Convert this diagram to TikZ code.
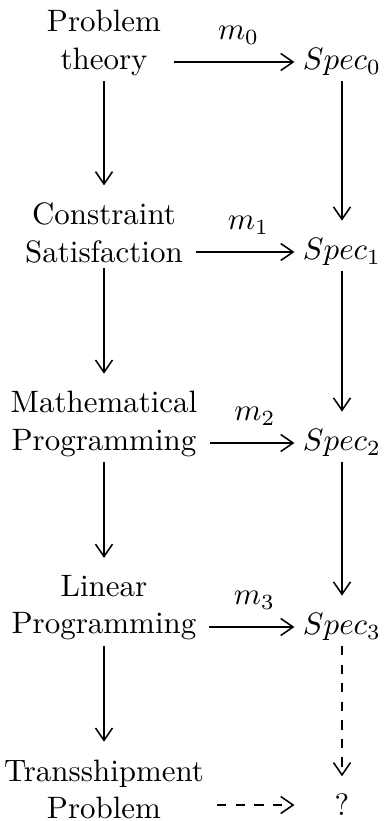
\documentclass[tikz,border=0pt]{standalone}
\usetikzlibrary{arrows.meta}
\begin{document}
\begin{tikzpicture}[x=0.323pt, y=-0.323pt, inner sep=1.5pt, line width=0.5pt,
    box/.style={align=center},
    arr/.style={-{Straight Barb[length=4pt,width=5.5pt]}},
    vert/.style={arr, shorten >=4pt},
    horiz/.style={arr, shorten <=2.5pt, shorten >=1pt}]
    \useasboundingbox (0,0) rectangle (383,821);
    \node[box] (pt) at (104,43) {Problem\\theory};
    \node[box] (cs) at (104,233) {Constraint\\Satisfaction};
    \node[box] (mp) at (104,424) {Mathematical\\Programming};
    \node[box] (lp) at (104,608) {Linear\\Programming};
    \node[box] (tp) at (104,789) {Transshipment\\Problem};
    \node (s0) at (342,62) {$Spec_0$};
    \node (s1) at (342,252) {$Spec_1$};
    \node (s2) at (342,443) {$Spec_2$};
    \node (s3) at (342,627) {$Spec_3$};
    \node (q) at (342,805) {?};
    \draw[horiz] (pt.east |- s0.west) -- node[above=4pt, pos=0.55] {$m_0$} (s0.west);
    \draw[horiz] (cs.east |- s1.west) -- node[above=4pt, pos=0.55] {$m_1$} (s1.west);
    \draw[horiz] (mp.east |- s2.west) -- node[above=4pt, pos=0.55] {$m_2$} (s2.west);
    \draw[horiz] (lp.east |- s3.west) -- node[above=4pt, pos=0.55] {$m_3$} (s3.west);
    \draw[horiz, dashed] (tp.east |- q.west) -- (s3.west |- q.west);
    \draw[vert] (pt) -- (cs);
    \draw[vert] (cs) -- (mp);
    \draw[vert] (mp) -- (lp);
    \draw[vert] (lp) -- (tp);
    \draw[vert] (s0) -- (s1);
    \draw[vert] (s1) -- (s2);
    \draw[vert] (s2) -- (s3);
    \draw[vert, dashed] (s3) -- (q);
\end{tikzpicture}
\end{document}
